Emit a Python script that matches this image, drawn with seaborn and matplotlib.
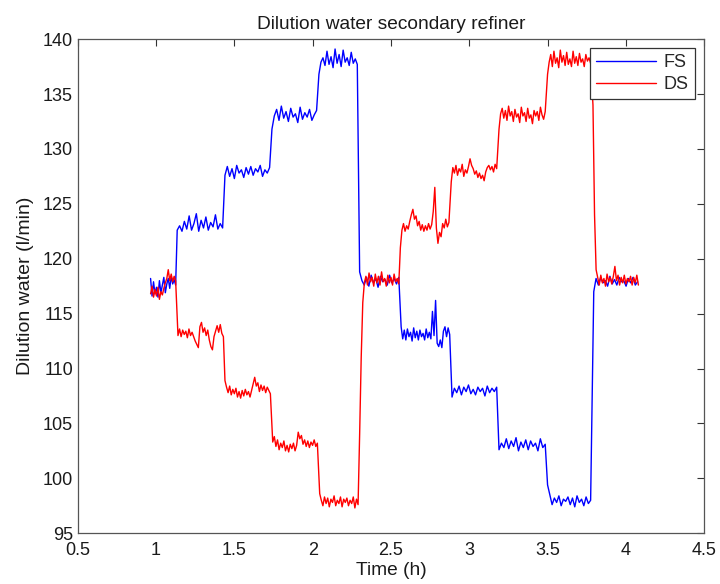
import numpy as np
import pandas as pd
import matplotlib
matplotlib.use("Agg")
import matplotlib.pyplot as plt
import seaborn as sns

# ---------------- data ----------------
title = "Dilution water secondary refiner"
x_label = "Time (h)"
y_label = "Dilution water (l/min)"
x_ticks = [0.5, 1, 1.5, 2, 2.5, 3, 3.5, 4, 4.5]
x_tick_labels = ["0.5", "1", "1.5", "2", "2.5", "3", "3.5", "4", "4.5"]
y_ticks = [95, 100, 105, 110, 115, 120, 125, 130, 135, 140]

# FS: segment start / end times (h) and sampled values within each segment
fs_start = [0.965, 1.135, 1.44, 1.74, 2.04, 2.30, 2.565, 2.89, 3.19, 3.50, 3.795]
fs_end = [1.125, 1.425, 1.725, 2.025, 2.285, 2.55, 2.875, 3.175, 3.485, 3.775, 4.075]
fs_values = [
    [118.2, 116.6, 117.9, 116.8, 117.4, 116.5, 118.0, 116.9, 117.6, 118.3, 116.9, 117.7, 118.2, 117.3, 118.4, 117.7, 118.1, 117.6],
    [122.6, 123.0, 122.5, 123.4, 122.7, 123.9, 122.6, 123.2, 124.1, 122.5, 123.5, 122.8, 123.8, 122.6, 123.3, 122.9, 124.0, 122.7, 123.2, 122.8],
    [127.6, 128.4, 127.5, 128.2, 127.3, 128.5, 127.8, 128.1, 127.4, 128.3, 127.7, 128.4, 127.6, 128.2, 127.9, 128.5, 127.5, 128.1, 127.8, 128.3],
    [131.8, 133.0, 133.6, 132.6, 133.9, 132.8, 133.4, 132.5, 133.7, 132.9, 133.2, 132.4, 133.8, 132.7, 133.3, 132.9, 133.6, 132.6, 133.1, 133.5],
    [136.8, 137.9, 138.3, 137.6, 138.9, 137.7, 138.4, 137.4, 139.1, 137.8, 138.6, 137.5, 139.0, 137.9, 138.3, 137.6, 138.8, 137.8, 138.2, 137.7],
    [118.8, 118.0, 117.6, 118.3, 117.5, 118.5, 117.8, 118.2, 117.4, 118.4, 117.9, 118.1, 117.6, 118.5, 117.8, 118.2, 117.7, 118.3],
    [113.8, 112.7, 113.5, 112.6, 113.6, 112.9, 113.3, 112.5, 113.7, 112.8, 113.4, 112.6, 113.5, 112.9, 113.2, 112.6,
     113.6, 112.8, 113.3, 112.7, 115.2, 113.0, 116.2, 112.3, 112.0, 112.6, 111.9, 113.4, 113.8, 112.9, 113.7, 113.1],
    [107.4, 108.2, 107.8, 108.4, 107.6, 108.3, 107.9, 108.5, 107.7, 108.1, 107.6, 108.3, 107.9, 108.2, 107.5, 108.4, 107.8, 108.2, 107.9, 108.3],
    [102.6, 103.2, 102.8, 103.6, 102.7, 103.4, 102.9, 103.7, 102.5, 103.3, 102.8, 103.5, 102.6, 103.4, 102.9, 103.2, 102.5, 103.6, 102.8, 103.1],
    [99.4, 98.5, 97.6, 98.2, 97.8, 98.4, 97.5, 98.1, 97.9, 98.3, 97.6, 98.2, 97.4, 98.4, 97.8, 98.1, 97.5, 98.3, 97.7, 98.0],
    [117.0, 118.2, 117.6, 118.3, 117.8, 118.0, 117.5, 118.4, 117.7, 118.1, 117.6, 118.3, 117.9, 118.0, 117.5, 118.2, 117.8, 118.3, 117.6, 117.9],
]

# DS: segment start / end times (h) and sampled values within each segment
ds_start = [0.965, 1.14, 1.44, 1.745, 2.045, 2.30, 2.56, 2.885, 3.19, 3.50, 3.79]
ds_end = [1.125, 1.43, 1.73, 2.03, 2.29, 2.55, 2.87, 3.175, 3.485, 3.775, 4.08]
ds_values = [
    [116.8, 117.5, 116.5, 117.2, 116.6, 117.4, 116.3, 117.0, 116.7, 117.3, 117.8, 118.2, 119.0, 118.0, 118.6, 117.9, 118.4, 118.0],
    [113.0, 113.6, 112.9, 113.5, 113.1, 113.4, 112.8, 113.6, 113.0, 113.3, 112.9, 112.5, 112.2, 111.9, 113.8,
     114.2, 113.3, 113.7, 113.0, 113.5, 112.6, 112.0, 111.7, 112.9, 113.4, 113.9, 113.3, 114.0, 113.2, 112.9],
    [108.9, 108.3, 107.8, 108.4, 107.6, 108.1, 107.7, 108.2, 107.4, 107.9, 107.3, 108.0, 107.5, 108.1, 107.6,
     107.9, 107.4, 108.0, 108.6, 109.2, 108.4, 108.7, 107.9, 108.5, 108.0, 108.4, 107.8, 108.3, 108.0, 107.7],
    [103.3, 103.8, 102.9, 103.5, 102.6, 103.2, 102.8, 103.4, 102.5, 103.0, 102.4, 103.1, 102.7, 103.2, 102.5,
     103.0, 104.2, 103.6, 103.9, 103.1, 103.5, 102.9, 103.4, 102.8, 103.3, 103.0, 103.5, 102.9, 103.2],
    [98.6, 98.0, 97.5, 98.3, 97.7, 98.2, 97.4, 98.1, 97.8, 98.4, 97.5, 98.0, 97.7, 98.3, 97.4, 98.1, 97.8, 98.2,
     97.5, 98.0, 97.7, 98.3, 97.3, 98.1, 97.6],
    [104.0, 111.0, 116.0, 117.8, 118.4, 117.6, 118.7, 117.9, 118.3, 117.5, 118.6, 117.8, 118.4, 117.6, 118.8,
     117.9, 118.2, 117.5, 118.5, 117.8, 118.3, 117.6, 118.6, 117.9, 118.2, 117.7],
    [121.0, 122.6, 123.2, 122.5, 123.0, 122.7, 123.4, 124.0, 124.5, 123.6, 123.9, 123.0, 123.4, 122.6, 123.1, 122.5,
     123.0, 122.6, 123.2, 122.7, 123.1, 124.3, 126.5, 122.8, 121.4, 122.4, 122.0, 123.2, 122.8, 123.6, 122.9, 123.3],
    [127.0, 128.3, 127.8, 128.5, 127.6, 128.2, 127.9, 128.6, 127.5, 128.1, 127.8, 128.4, 129.1, 128.5, 128.2,
     127.7, 128.0, 127.4, 127.8, 127.3, 127.6, 127.1, 127.9, 128.3, 128.5, 128.1, 128.4, 127.9, 128.6, 128.2],
    [131.8, 133.2, 133.7, 132.8, 133.5, 132.6, 133.9, 133.0, 133.4, 132.5, 133.6, 132.9, 133.2, 132.4, 133.8,
     133.0, 133.3, 132.5, 133.7, 132.8, 133.1, 132.3, 133.5, 133.0, 133.4, 132.6, 133.8, 133.1, 132.7, 133.4],
    [136.8, 137.9, 138.6, 137.5, 138.9, 137.8, 138.3, 137.4, 139.0, 137.9, 138.5, 137.6, 138.8, 137.7, 138.2,
     137.5, 138.9, 137.8, 138.4, 137.6, 138.7, 137.9, 138.2, 137.5, 138.6, 138.0, 138.3, 137.8],
    [134.0, 124.0, 119.0, 118.3, 117.6, 118.5, 117.8, 118.2, 117.5, 118.6, 117.9, 118.3, 117.7, 118.4, 119.3,
     118.0, 118.5, 117.6, 118.3, 117.8, 118.5, 117.7, 118.2, 117.9, 118.4, 117.6, 118.3, 117.8, 118.5, 117.6],
]


def build(name, starts, ends, values):
    t, v = [], []
    for s, e, vals in zip(starts, ends, values):
        t.extend(np.linspace(s, e, len(vals)))
        v.extend(vals)
    return pd.DataFrame({"Time": t, "Water": v, "Series": name})


df = pd.concat([build("FS", fs_start, fs_end, fs_values),
                build("DS", ds_start, ds_end, ds_values)], ignore_index=True)

# ---------------- drawing ----------------
sns.set_theme(style="white")
plt.rcParams["font.family"] = ["Liberation Sans", "DejaVu Sans"]

fig = plt.figure(figsize=(7.2, 5.84), dpi=100)
ax = fig.add_axes([0.108, 0.087, 0.870, 0.846])

sns.lineplot(data=df, x="Time", y="Water", hue="Series",
             palette={"FS": "#0000ff", "DS": "#ff0000"},
             estimator=None, sort=False, linewidth=1.0, ax=ax)

ax.set_xlim(0.5, 4.5)
ax.set_ylim(95, 140)
ax.set_xticks(x_ticks)
ax.set_xticklabels(x_tick_labels)
ax.set_yticks(y_ticks)
ax.tick_params(direction="in", length=5, width=0.8, colors="#333333",
               labelsize=13, top=True, right=True, labelcolor="#1a1a1a")
ax.tick_params(axis="x", pad=6.5)
ax.tick_params(axis="y", pad=3.5)
for sp in ax.spines.values():
    sp.set_color("#555555")
    sp.set_linewidth(0.9)

ax.set_title(title, fontsize=13.8, color="#1a1a1a", pad=7)
ax.set_xlabel(x_label, fontsize=13.8, color="#1a1a1a", labelpad=2)
ax.set_ylabel(y_label, fontsize=14, color="#1a1a1a", labelpad=6)

leg = ax.legend(loc="upper right", fontsize=13, frameon=True, fancybox=False,
                framealpha=1, edgecolor="#333333", handlelength=3.3,
                borderaxespad=0.5, borderpad=0.35, labelspacing=0.25,
                handletextpad=0.45)
leg.get_frame().set_linewidth(0.9)
for line in leg.get_lines():
    line.set_linewidth(1.0)

fig.savefig("out.png", dpi=100)
